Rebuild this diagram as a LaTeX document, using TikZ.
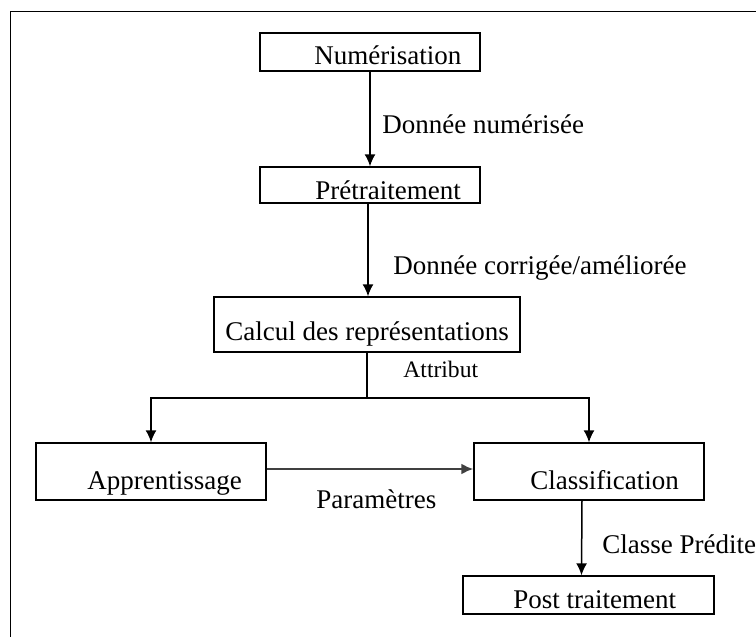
\documentclass[tikz,border=0pt]{standalone}
\usepackage{fontspec}
\setmainfont{Liberation Serif}
\usetikzlibrary{arrows.meta}
\tikzset{
	box/.style={draw, line width=0.7pt, inner sep=0pt},
	txt/.style={anchor=base west, inner sep=0pt, font=\fontsize{13.5}{16}\selectfont},
	small/.style={anchor=base west, inner sep=0pt, font=\fontsize{11.8}{14}\selectfont},
	flow/.style={line width=0.75pt, -{Latex[length=6pt,width=5.5pt]}}
}

\begin{document}
\begin{tikzpicture}[x=0.5pt, y=-0.5pt]
		%%%%% START %%%%%
		
		\useasboundingbox (0, 0) rectangle (756, 637);
		\draw[line width=0.5pt] (10, 637) |- (756, 11);
		
		% boxes
		\node[box, minimum width=110pt, minimum height=19pt] (num) at (370, 52) {};
		\node[box, minimum width=110pt, minimum height=18pt] (pre) at (370, 185) {};
		\node[box, minimum width=153pt, minimum height=27.5pt] (calc) at (367, 324.5) {};
		\node[box, minimum width=115pt, minimum height=28.5pt] (app) at (151, 471.5) {};
		\node[box, minimum width=115pt, minimum height=28.5pt] (cls) at (589, 471.5) {};
		\node[box, minimum width=125.5pt, minimum height=19pt] (post) at (588.5, 595) {};
		
		% box texts
		\node[txt] (num-t) at (314, 64) {Numérisation};
		\node[txt] (pre-t) at (315, 199) {Prétraitement};
		\node[txt] (calc-t) at (225, 340) {Calcul des représentations};
		\node[txt] (app-t) at (87, 489) {Apprentissage};
		\node[txt] (cls-t) at (530, 489) {Classification};
		\node[txt] (post-t) at (513, 608) {Post traitement};
		
		% connectors
		\draw[flow] (num) -- (pre);
		\draw[flow] ([xshift=-1pt]pre.south) -- ([xshift=-1pt]pre.south |- calc.north);
		\coordinate (fork) at (367, 398);
		\draw[line width=0.75pt] (calc) -- (fork);
		\draw[flow] (fork) -| (app.north);
		\draw[flow] (fork) -| (cls.north);
		\draw[flow, line width=1pt, draw=black!75] (app.east |- 0, 469) -- (cls.west |- 0, 469);
		\draw[flow] ([xshift=-3.5pt]cls.south) -- ([xshift=-3.5pt]post.north);
		
		% connector labels
		\node[txt] (lbl-num) at (382, 133) {Donnée numérisée};
		\node[txt] (lbl-cor) at (393, 274) {Donnée corrigée/améliorée};
		\node[small] (lbl-att) at (403, 377) {Attribut};
		\node[txt] (lbl-par) at (316, 508) {Paramètres};
		\node[txt] (lbl-cla) at (602, 553) {Classe Prédite};
		
		%%%%% END %%%%%
	\end{tikzpicture}
\end{document}
